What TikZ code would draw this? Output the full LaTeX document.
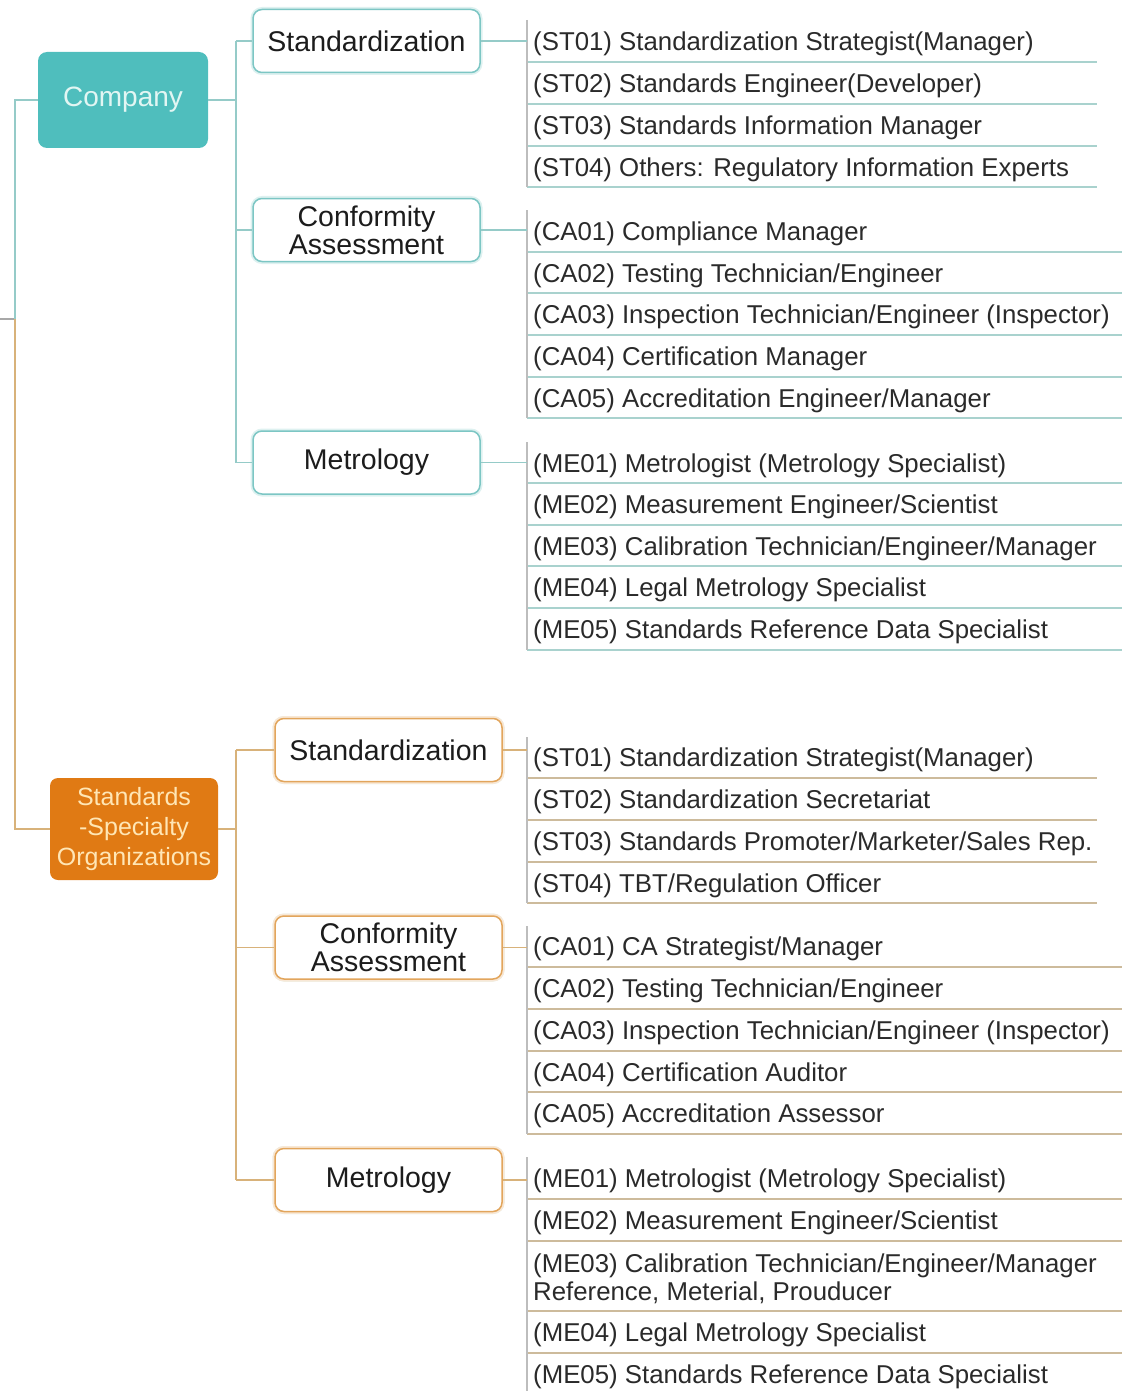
\documentclass[tikz,border=0pt]{standalone}
\usepackage{fontspec}
\setmainfont{Liberation Sans}
\definecolor{tealF}{HTML}{4FBEBD}
\definecolor{tealTxt}{HTML}{E2F6F3}
\definecolor{boxT}{HTML}{7CC6C4}
\definecolor{connT}{HTML}{95CBC8}
\definecolor{sepT}{HTML}{A9D2CE}
\definecolor{orgF}{HTML}{E07A14}
\definecolor{orgTxt}{HTML}{FFE6B5}
\definecolor{boxO}{HTML}{E2A55C}
\definecolor{connO}{HTML}{D8B27A}
\definecolor{sepO}{HTML}{CDBB9C}
\definecolor{listV}{HTML}{BDBDBD}
\definecolor{rootL}{HTML}{A8A8A8}
\definecolor{itemTxt}{HTML}{2A2A2A}
\definecolor{boxTxt}{HTML}{1C1C1C}
\begin{document}
\begin{tikzpicture}[x=1pt,y=-1pt,
  tconn/.style={draw=connT, line width=1.3pt},
  oconn/.style={draw=connO, line width=1.3pt},
  gconn/.style={draw=rootL, line width=1.3pt},
  listline/.style={draw=listV, line width=1.1pt},
  sept/.style={draw=sepT, line width=1.1pt},
  sepo/.style={draw=sepO, line width=1.1pt},
  rootT/.style={rounded corners=9pt, fill=tealF, text=tealTxt, inner sep=0pt,
    minimum width=170pt, minimum height=96pt, font=\fontsize{28}{30}\selectfont},
  rootO/.style={rounded corners=8pt, fill=orgF, text=orgTxt, inner sep=0pt, align=center,
    minimum width=168pt, minimum height=102pt, font=\fontsize{25}{30}\selectfont},
  subT/.style={rounded corners=9pt, draw=boxT, line width=1.5pt, fill=white,
    preaction={draw=boxT!25, line width=5pt}, text=boxTxt, align=center, inner sep=0pt,
    minimum width=227pt, minimum height=63pt, font=\fontsize{28.5}{28}\selectfont},
  subO/.style={subT, draw=boxO, preaction={draw=boxO!25, line width=5pt}},
  item/.style={anchor=west, inner sep=0pt, text=itemTxt, align=left, yshift=-2.5pt,
    font=\fontsize{25.8}{28}\selectfont},
]
\useasboundingbox (0,0) rectangle (1122,1391);

% main nodes
\node[rootT] (comp) at (123,100) {Company};
\node[rootO] (sso) at (134,829) {Standards\\-Specialty\\Organizations};

\node[subT] (cst) at (366.5,41) {Standardization};
\node[subT] (cca) at (366.5,230) {Conformity\\Assessment};
\node[subT] (cme) at (366.5,462.5) {Metrology};

\node[subO] (sst) at (388.5,750) {Standardization};
\node[subO] (sca) at (388.5,947.5) {Conformity\\Assessment};
\node[subO] (sme) at (388.5,1180) {Metrology};

% spine
\coordinate (root) at (0,319);
\coordinate (sp) at (15,319);
\draw[gconn] (root) -- (sp);
\draw[tconn] (sp) |- (comp.west);
\draw[oconn] (sp) |- (sso.west);

% branches
\coordinate (bx) at (236,0);
\draw[tconn] (comp.east) -- (comp.east -| bx);
\draw[tconn] (bx |- cst) -- (bx |- cme);
\draw[tconn] (bx |- cst) -- (cst.west);
\draw[tconn] (bx |- cca) -- (cca.west);
\draw[tconn] (bx |- cme) -- (cme.west);

\draw[oconn] (sso.east) -- (sso.east -| bx);
\draw[oconn] (bx |- sst) -- (bx |- sme);
\draw[oconn] (bx |- sst) -- (sst.west);
\draw[oconn] (bx |- sca) -- (sca.west);
\draw[oconn] (bx |- sme) -- (sme.west);

% list anchors
\coordinate (lcst) at (527,20);
\coordinate (lcca) at (527,210);
\coordinate (lcme) at (527,442);
\coordinate (lsst) at (527,737);
\coordinate (lsca) at (527,926);
\coordinate (lsme) at (527,1157);

% ---- Company: Standardization
\node[item] (c1) at (533,41) {(ST01) Standardization Strategist(Manager)};
\node[item] (c2) at (533,83) {(ST02) Standards Engineer(Developer)};
\node[item] (c3) at (533,125) {(ST03) Standards Information Manager};
\node[item] (c4) at (533,167) {(ST04) Others: Regulatory Information Experts};
\foreach \y in {62,104,146,187} \draw[sept] (527,\y) -- (1097,\y);
\draw[listline] (lcst) -- (527,187);
\draw[tconn] (cst.east) -- (cst.east -| lcst);

% ---- Company: Conformity Assessment
\node[item] (c5) at (533,231) {(CA01) Compliance Manager};
\node[item] (c6) at (533,273) {(CA02) Testing Technician/Engineer};
\node[item] (c7) at (533,314) {(CA03) Inspection Technician/Engineer (Inspector)};
\node[item] (c8) at (533,356) {(CA04) Certification Manager};
\node[item] (c9) at (533,398) {(CA05) Accreditation Engineer/Manager};
\foreach \y in {252,293,335,377,418} \draw[sept] (527,\y) -- (1122,\y);
\draw[listline] (lcca) -- (527,418);
\draw[tconn] (cca.east) -- (cca.east -| lcca);

% ---- Company: Metrology
\node[item] (c10) at (533,463) {(ME01) Metrologist (Metrology Specialist)};
\node[item] (c11) at (533,504) {(ME02) Measurement Engineer/Scientist};
\node[item] (c12) at (533,546) {(ME03) Calibration Technician/Engineer/Manager};
\node[item] (c13) at (533,587) {(ME04) Legal Metrology Specialist};
\node[item] (c14) at (533,629) {(ME05) Standards Reference Data Specialist};
\foreach \y in {483,525,566,608,650} \draw[sept] (527,\y) -- (1122,\y);
\draw[listline] (lcme) -- (527,650);
\draw[tconn] (cme.east) -- (cme.east -| lcme);

% ---- SSO: Standardization
\node[item] (s1) at (533,757) {(ST01) Standardization Strategist(Manager)};
\node[item] (s2) at (533,799) {(ST02) Standardization Secretariat};
\node[item] (s3) at (533,841) {(ST03) Standards Promoter/Marketer/Sales Rep.};
\node[item] (s4) at (533,883) {(ST04) TBT/Regulation Officer};
\foreach \y in {778,820,862,903} \draw[sepo] (527,\y) -- (1097,\y);
\draw[listline] (lsst) -- (527,903);
\draw[oconn] (sst.east) -- (sst.east -| lsst);

% ---- SSO: Conformity Assessment
\node[item] (s5) at (533,946) {(CA01) CA Strategist/Manager};
\node[item] (s6) at (533,988) {(CA02) Testing Technician/Engineer};
\node[item] (s7) at (533,1030) {(CA03) Inspection Technician/Engineer (Inspector)};
\node[item] (s8) at (533,1072) {(CA04) Certification Auditor};
\node[item] (s9) at (533,1113) {(CA05) Accreditation Assessor};
\foreach \y in {967,1009,1051,1092,1134} \draw[sepo] (527,\y) -- (1122,\y);
\draw[listline] (lsca) -- (527,1134);
\draw[oconn] (sca.east) -- (sca.east -| lsca);

% ---- SSO: Metrology
\node[item] (s10) at (533,1178) {(ME01) Metrologist (Metrology Specialist)};
\node[item] (s11) at (533,1220) {(ME02) Measurement Engineer/Scientist};
\node[item] (s12) at (533,1276) {(ME03) Calibration Technician/Engineer/Manager\\Reference, Meterial, Prouducer};
\node[item] (s13) at (533,1332) {(ME04) Legal Metrology Specialist};
\node[item] (s14) at (533,1374) {(ME05) Standards Reference Data Specialist};
\foreach \y in {1199,1241,1311,1353} \draw[sepo] (527,\y) -- (1122,\y);
\draw[listline] (lsme) -- (527,1391);
\draw[oconn] (sme.east) -- (sme.east -| lsme);
\end{tikzpicture}
\end{document}
